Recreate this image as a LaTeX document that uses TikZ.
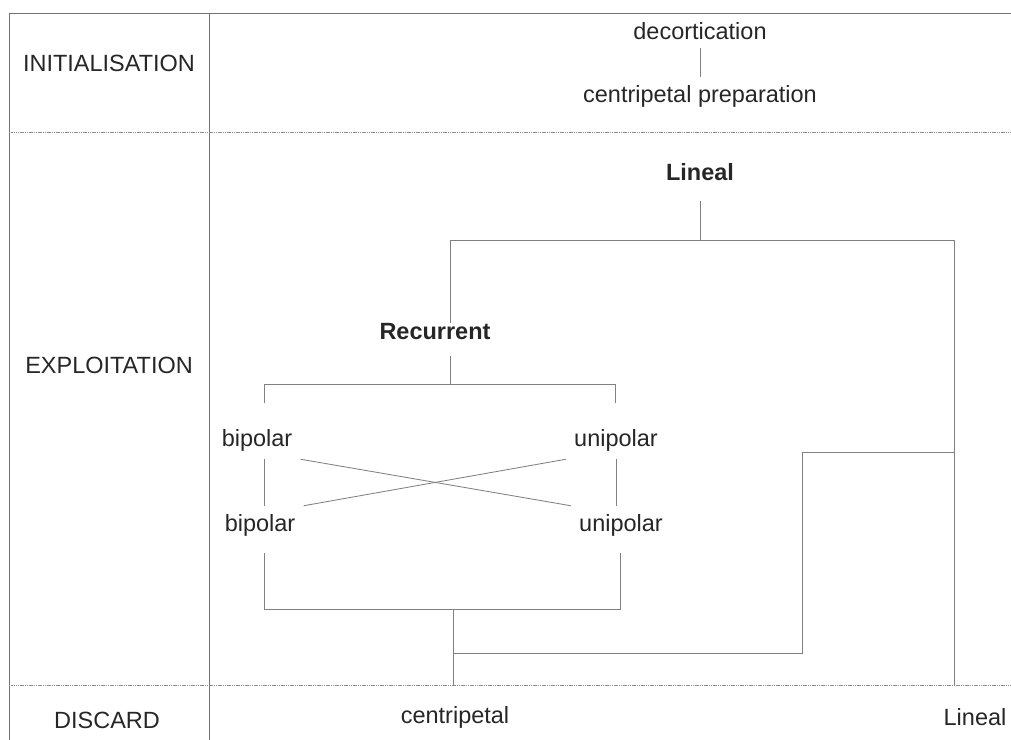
\documentclass[tikz,border=0pt]{standalone}
\usepackage{fontspec}
\setmainfont{Liberation Sans}
\begin{document}
\begin{tikzpicture}[x=0.025cm, y=-0.025cm, font=\fontsize{16.7}{20}\selectfont,
  lab/.style={text=black!85, inner sep=5.7pt},
  head/.style={lab, font=\fontsize{16.7}{20}\selectfont\bfseries},
  conn/.style={draw=black!50, line width=0.6pt},
  frame/.style={draw=black!55, line width=0.6pt},
  sep/.style={draw=black!45, line width=0.5pt, dash pattern=on 1pt off 0.6pt}]
  \useasboundingbox (0,0) rectangle (1011,740);

  % tableau: colonnes et bandes
  \draw[frame] (1011,13) -- (9,13) -- (9,740);
  \draw[frame] (209,13) -- (209,740);
  \draw[sep] (9,132) -- (1011,132);
  \draw[sep] (9,685) -- (1011,685);
  \coordinate (dcut) at (0,685);

  % phases
  \node[lab] (ini) at (109,63) {INITIALISATION};
  \node[lab] (exp) at (109,365) {EXPLOITATION};
  \node[lab] (dis) at (107,720) {DISCARD};

  % initialisation
  \node[lab] (dec) at (700,31) {decortication};
  \node[lab] (prep) at (700,96) {centripetal preparation};
  \draw[conn] (dec) -- (prep);

  % exploitation
  \node[head] (lin) at (700,172) {Lineal};
  \node[head] (rec) at (435,332) {Recurrent};
  \node[lab] (bip1) at (257,440) {bipolar};
  \node[lab] (uni1) at (616,440) {unipolar};
  \node[lab] (bip2) at (260,525) {bipolar};
  \node[lab] (uni2) at (621,525) {unipolar};

  % discard
  \node[lab] (cen) at (455,717) {centripetal};
  \node[lab] (lind) at (975,717) {Lineal};

  % Lineal: fourche
  \coordinate (linL) at (450,240);
  \coordinate (linR) at (954,240);
  \draw[conn, shorten <=0.3cm] (lin) -- (lin |- linL);
  \draw[conn, shorten <=-0.18cm] (rec.north -| linL) |- (linR) -- (linR |- dcut);

  % Recurrent: fourche
  \coordinate (recfork) at (450,384);
  \coordinate (bl) at (264,384);
  \coordinate (br) at (615,384);
  \draw[conn, shorten <=0.2cm] (rec.south -| recfork) -- (recfork);
  \draw[conn, shorten <=0.45cm, shorten >=0.45cm] (bl |- bip1.north) -- (bl) -- (br) -- (br |- uni1.north);
  \draw[conn] (bl |- bip1.south) -- (bl |- bip2.north);
  \draw[conn] (uni1.south) -- (uni1 |- uni2.north);
  \draw[conn] (bip1.south east) -- (uni2.north west);
  \draw[conn] (bip2.north east) -- (uni1.south west);

  % retour vers le bas
  \coordinate (bbl) at (264,609);
  \coordinate (bbr) at (620,609);
  \draw[conn, shorten <=0.22cm, shorten >=0.22cm] (bbl |- bip2.south) -- (bbl) -- (bbr) -- (bbr |- uni2.south);
  \coordinate (cstem) at (453,609);
  \draw[conn] (cstem) -- (cstem |- dcut);
  \coordinate (st1) at (453,653);
  \coordinate (st2) at (802,452);
  \draw[conn] (st1) -| (st2) -- (st2 -| linR);
\end{tikzpicture}
\end{document}
